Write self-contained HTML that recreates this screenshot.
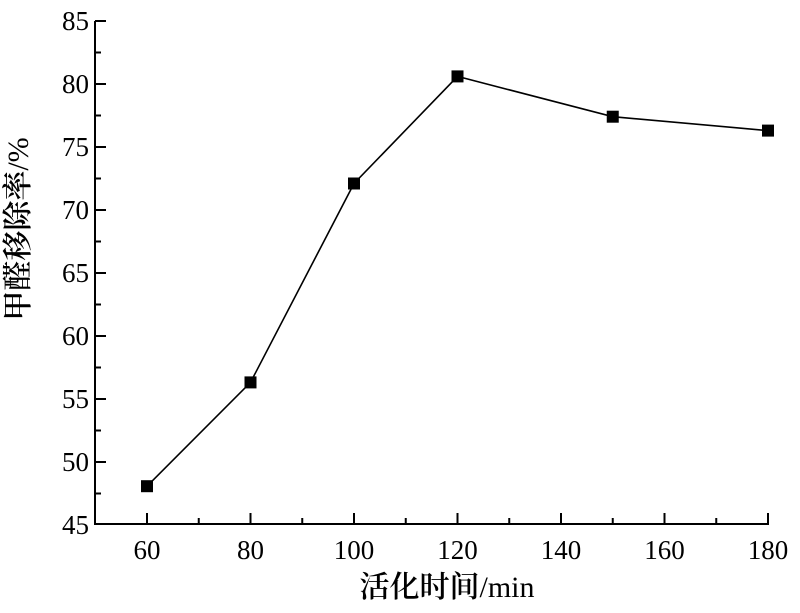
<!DOCTYPE html>
<html><head><meta charset="utf-8"><style>body{margin:0;background:#fff}
svg text{font-family:"Liberation Serif","Noto Serif CJK SC",serif}
.cj{font-family:"Liberation Serif","Noto Serif CJK SC",serif;font-weight:600}</style></head>
<body>
<svg width="800" height="608" xmlns="http://www.w3.org/2000/svg">
<g stroke="#000" stroke-width="2" fill="none">
<path d="M95,21 V524 H769"/>
<path d="M95,21h11M95,84h11M95,147h11M95,210h11M95,273h11M95,336h11M95,399h11M95,462h11"/>
<path d="M95,52.5h6M95,115.5h6M95,178.5h6M95,241.5h6M95,304.5h6M95,367.5h6M95,430.5h6M95,493.5h6"/>
<path d="M147,524v-11M250.5,524v-11M354,524v-11M457.5,524v-11M561,524v-11M664.5,524v-11M768,524v-11"/>
<path d="M198.75,524v-6M302.25,524v-6M405.75,524v-6M509.25,524v-6M612.75,524v-6M716.25,524v-6"/>
<polyline stroke-width="1.6" points="147,486.2 250.5,382.4 354,183.5 457.5,76.4 612.75,116.7 768,130.6"/>
</g>
<g fill="#000">
<rect x="141" y="480.2" width="12" height="12"/><rect x="244.5" y="376.4" width="12" height="12"/>
<rect x="348" y="177.5" width="12" height="12"/><rect x="451.5" y="70.4" width="12" height="12"/>
<rect x="606.75" y="110.7" width="12" height="12"/><rect x="762" y="124.6" width="12" height="12"/>
</g>
<g font-size="27" text-anchor="end">
<text x="89" y="30">85</text><text x="89" y="93">80</text><text x="89" y="156">75</text><text x="89" y="219">70</text>
<text x="89" y="282">65</text><text x="89" y="345">60</text><text x="89" y="408">55</text><text x="89" y="471">50</text><text x="89" y="534">45</text>
</g>
<g font-size="27" text-anchor="middle">
<text x="147" y="559">60</text><text x="250.5" y="559">80</text><text x="354" y="559">100</text><text x="457.5" y="559">120</text>
<text x="561" y="559">140</text><text x="664.5" y="559">160</text><text x="768" y="559">180</text>
</g>
<text x="447" y="597" font-size="30" text-anchor="middle"><tspan class="cj">活化时间</tspan>/min</text>
<text transform="translate(28,229) rotate(-90)" font-size="30" text-anchor="middle"><tspan class="cj">甲醛移除率</tspan>/%</text>
</svg>
</body></html>
